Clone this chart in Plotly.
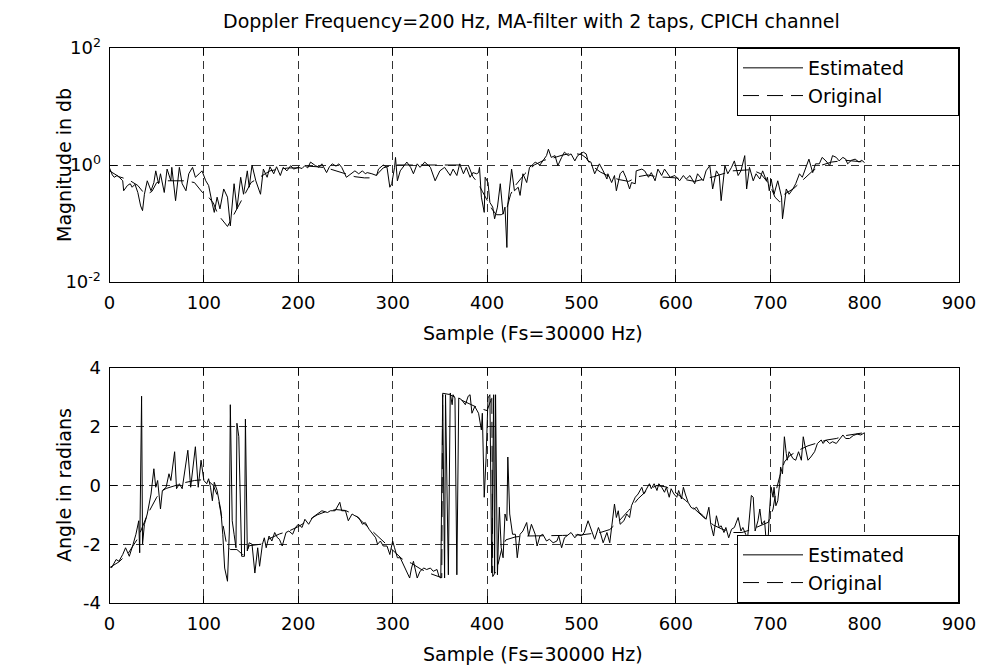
import plotly.graph_objects as go

# ---------------- data ----------------
# Top panel: magnitude, stored as log10 values
mag_est_sample = [0,3,5,8,11,14,15,19,22,24,27,30,33,35,37,40,44,47,49,52,
    54,58,61,65,66,70,74,77,81,84,88,91,95,98,102,105,109,111,114,117,
    121,125,128,132,135,139,142,146,148,151,155,160,163,167,170,174,177,181,184,188,
    192,195,200,204,207,210,213,218,222,225,230,233,236,240,243,246,251,258,260,264,
    268,271,273,278,283,285,290,294,297,299,302,303,305,308,311,315,319,322,326,329,
    334,337,340,345,350,355,361,364,368,371,375,378,382,385,389,391,392,394,397,398,
    401,403,406,408,411,414,417,419,421,422,426,429,433,435,438,442,445,448,451,456,
    459,463,465,468,472,475,479,482,486,489,493,496,502,505,507,510,514,519,523,527,
    528,532,535,537,541,544,547,551,553,557,558,564,567,571,574,578,581,585,588,594,
    599,604,608,611,615,620,623,629,632,636,639,643,646,648,652,655,659,662,666,669,
    673,675,678,682,685,689,692,696,697,699,701,704,708,712,713,717,720,724,727,731,
    734,738,741,745,748,752,755,759,763,766,770,773,777,780,782,786,790,794,797,800]
mag_est_log10 = [-0.05,-0.17,-0.21,-0.18,-0.22,-0.27,-0.44,-0.35,-0.32,-0.38,-0.33,-0.47,-0.70,-0.78,-0.50,-0.27,-0.44,-0.30,-0.10,-0.32,
    -0.15,-0.47,-0.07,-0.27,-0.04,-0.61,-0.04,-0.32,-0.44,-0.15,-0.04,-0.21,-0.15,-0.10,-0.27,-0.35,-0.67,-0.81,-0.55,-0.75,
    -0.41,-0.55,-1.04,-0.32,-0.75,-0.21,-0.50,-0.10,-0.38,0.0,-0.27,-0.50,-0.07,-0.21,-0.03,-0.15,-0.03,-0.18,-0.04,-0.10,
    -0.01,-0.07,-0.04,-0.06,-0.01,-0.05,0.05,-0.01,-0.04,0.02,-0.13,-0.03,0.02,-0.02,0.02,-0.04,-0.21,-0.13,-0.10,-0.15,
    -0.10,-0.15,-0.13,-0.15,-0.18,-0.07,0.0,-0.04,-0.38,-0.32,-0.04,0.13,-0.27,-0.10,-0.04,0.05,-0.04,-0.15,0.02,-0.04,
    0.05,0.0,-0.04,-0.27,-0.10,-0.04,-0.18,-0.07,-0.18,0.02,-0.15,-0.04,-0.21,-0.13,-0.15,-0.13,-0.04,-0.55,-0.81,-0.21,
    -0.30,-0.64,-0.72,-0.92,-0.72,-0.32,-0.84,-0.72,-1.41,-0.67,-0.07,-0.44,-0.38,-0.52,-0.15,-0.30,-0.04,0.0,0.05,0.0,
    0.07,0.16,0.27,0.13,0.16,-0.01,0.13,0.22,0.16,0.19,0.07,0.16,0.22,0.19,0.07,0.05,-0.15,0.02,-0.10,-0.24,
    -0.15,-0.30,-0.18,-0.44,-0.15,-0.10,-0.21,-0.41,-0.30,-0.32,-0.10,-0.07,-0.10,-0.21,-0.13,-0.27,-0.07,-0.18,-0.07,-0.21,
    -0.18,-0.27,-0.18,-0.24,-0.18,-0.32,-0.15,-0.27,-0.10,-0.01,-0.41,-0.10,-0.18,-0.61,-0.01,-0.15,-0.04,0.07,-0.18,-0.10,
    0.16,-0.41,-0.04,-0.27,-0.15,-0.24,-0.10,-0.27,-0.21,-0.44,-0.24,-0.50,-0.27,-0.55,-0.92,-0.41,-0.50,-0.41,-0.32,-0.15,
    -0.21,-0.04,0.10,-0.13,0.02,0.02,0.13,0.07,-0.01,0.16,0.13,0.07,0.13,0.10,0.02,0.08,0.10,0.05,0.08,0.04]

mag_orig_sample = [0,10,20,30,35,40,45,50,60,70,
    80,90,95,100,105,110,115,120,125,130,
    140,150,160,170,180,190,200,210,220,230,
    240,250,260,270,280,290,300,320,340,360,
    380,385,390,395,400,405,410,415,420,425,
    430,440,450,460,470,480,490,500,505,510,
    520,530,540,550,560,570,580,600,620,640,
    660,680,690,700,705,710,715,725,735,745,
    755,765,780,800]
mag_orig_log10 = [-0.10,-0.20,-0.25,-0.35,-0.45,-0.50,-0.45,-0.30,-0.27,-0.27,
    -0.27,-0.30,-0.40,-0.50,-0.55,-0.65,-0.85,-0.95,-1.05,-0.90,
    -0.60,-0.30,-0.20,-0.10,-0.07,-0.05,-0.05,-0.02,-0.03,-0.05,
    -0.10,-0.15,-0.20,-0.22,-0.22,-0.05,0.0,0.0,0.0,0.0,
    0.0,-0.20,-0.30,-0.45,-0.60,-0.75,-0.85,-0.85,-0.80,-0.50,
    -0.35,-0.15,0.0,0.08,0.12,0.17,0.20,0.18,0.12,0.0,
    -0.12,-0.20,-0.25,-0.28,-0.20,-0.17,-0.20,-0.22,-0.28,-0.20,
    -0.10,-0.08,-0.15,-0.35,-0.55,-0.63,-0.50,-0.40,-0.25,-0.10,
    0.0,0.05,0.08,0.05]

# Bottom panel: angle in radians
ang_est_sample = [2,7,10,14,17,21,25,28,31,32,34,35,37,40,44,47,49,51,54,56,
    60,63,65,69,71,74,77,79,83,86,88,91,94,97,100,103,105,107,109,111,
    114,118,120,122,125,127,128,130,132,134,135,137,140,143,144,146,148,151,154,157,
    159,162,164,166,169,172,175,178,180,183,187,190,194,197,200,204,207,211,215,220,
    225,231,234,239,244,246,250,253,257,260,264,268,271,275,278,282,284,287,290,294,
    297,300,302,305,308,312,315,318,320,322,326,329,333,336,340,343,347,349,351,353,
    355,356,359,361,363,364,366,368,370,373,377,380,382,384,387,391,394,395,397,399,
    401,403,405,407,408,409,411,413,415,417,419,421,422,424,427,430,432,435,438,442,
    444,447,451,453,456,459,463,466,470,474,476,479,482,486,489,493,496,500,503,507,
    511,514,518,520,523,527,530,532,535,537,539,541,545,548,551,553,557,560,564,566,
    569,572,574,577,580,582,585,588,590,593,595,598,601,603,606,608,610,613,616,619,
    622,625,629,632,635,637,640,643,646,648,651,653,656,659,662,666,669,671,674,676,
    680,682,684,687,689,691,694,696,697,699,701,703,704,706,708,710,711,713,715,717,
    718,720,724,727,730,733,735,737,740,743,747,750,754,756,759,763,766,770,773,777,
    780,784,788,792,796,800]
ang_est_rad = [-2.81,-2.52,-2.58,-2.35,-2.12,-2.41,-2.00,-1.66,-1.20,-2.29,3.04,-2.00,-1.32,-0.97,-0.29,0.57,-0.06,0.17,-0.80,-0.17,
    -0.06,0.40,0.17,1.15,-0.11,0.06,-0.11,0.29,1.20,-0.06,0.52,1.32,-0.06,0.86,0.17,0.06,0.23,-0.06,-0.52,0.11,
    -0.17,-0.86,-1.66,-2.81,-3.26,-1.55,2.75,-1.20,-1.66,-2.12,2.12,1.66,-2.41,-2.41,2.26,-2.23,-1.95,-2.00,-2.98,-2.12,
    -2.75,-2.00,-1.78,-2.12,-1.72,-1.89,-1.60,-1.78,-1.83,-2.06,-1.60,-1.55,-1.66,-1.43,-1.32,-1.43,-1.15,-1.32,-1.09,-0.97,
    -0.86,-0.92,-0.86,-0.86,-0.57,-0.86,-0.86,-1.20,-0.97,-1.03,-1.09,-1.32,-1.26,-1.49,-1.60,-1.78,-2.00,-1.89,-2.06,-2.06,
    -2.35,-1.89,-2.12,-2.46,-2.46,-2.75,-2.92,-3.15,-2.81,-2.58,-3.15,-2.92,-2.81,-2.86,-2.81,-2.92,-2.86,-3.09,-3.15,3.09,
    -3.15,3.09,-3.04,3.15,2.75,3.09,2.98,-3.04,2.98,2.92,2.75,3.04,3.09,2.46,2.69,2.46,1.89,2.46,-0.40,0.97,
    2.98,3.09,-2.98,3.09,-2.98,3.09,-3.04,-0.74,-2.12,-2.46,-0.97,-1.20,0.97,-0.97,-1.66,-1.66,-2.46,-1.66,-1.55,-1.26,
    -1.72,-1.32,-1.66,-2.06,-1.72,-1.66,-1.89,-1.83,-1.95,-1.89,-1.72,-2.12,-1.78,-1.66,-1.60,-1.78,-1.66,-1.72,-1.60,-1.20,
    -1.55,-1.83,-1.43,-1.60,-1.95,-1.60,-1.95,-1.43,-0.63,-1.09,-0.86,-1.32,-1.20,-0.97,-1.09,-0.69,-0.40,-0.29,-0.06,-0.29,
    -0.11,0.06,-0.11,0.06,-0.17,0.06,-0.06,-0.23,-0.06,-0.40,-0.11,-0.29,-0.40,-0.17,-0.46,-0.06,-0.29,-0.57,-0.74,-0.80,
    -0.74,-0.92,-1.03,-1.15,-0.74,-1.32,-1.72,-1.03,-1.43,-1.37,-1.60,-1.43,-1.78,-1.49,-1.43,-1.09,-1.55,-1.43,-1.66,-1.80,
    -0.34,-0.40,-1.55,-1.20,-0.80,-1.32,-1.20,-2.10,-2.40,-0.97,-0.06,-0.40,-0.06,-0.69,-0.52,0.06,0.63,0.40,1.66,1.09,
    0.86,1.15,0.92,0.86,1.15,0.86,1.66,1.32,0.86,0.97,1.15,1.43,1.55,1.43,1.55,1.43,1.49,1.43,1.55,1.72,
    1.60,1.60,1.70,1.75,1.72,1.80]

ang_orig_sample = [0,10,20,30,35,40,45,50,55,60,
    70,80,90,100,105,110,115,118,121,124,
    128,135,141,144,148,160,170,180,190,200,
    210,220,230,240,250,260,270,280,290,300,
    310,320,330,340,350,352,353,360,370,380,
    390,400,404,405,406,410,413,416,420,430,
    440,460,480,500,520,530,540,550,560,570,
    580,590,600,610,620,630,640,650,660,670,
    680,690,698,703,706,710,715,720,730,740,
    750,760,770,780,790,800]
ang_orig_rad = [-2.80,-2.60,-2.30,-1.80,-1.40,-1.00,-0.70,-0.40,-0.20,-0.10,
    0.0,0.10,0.17,0.20,0.15,0.0,-0.40,-0.90,-1.50,-2.00,
    -2.18,-2.18,-2.35,-2.35,-2.05,-2.00,-1.80,-1.65,-1.55,-1.40,
    -1.20,-1.00,-0.88,-0.82,-0.85,-1.00,-1.30,-1.60,-1.90,-2.20,
    -2.50,-2.65,-2.85,-3.00,-3.10,-3.14,3.14,3.10,2.95,2.80,
    2.65,2.55,2.90,3.10,-3.10,-2.90,-2.50,-2.10,-1.85,-1.75,
    -1.72,-1.72,-1.70,-1.68,-1.60,-1.50,-1.20,-0.85,-0.45,-0.15,
    0.0,-0.05,-0.25,-0.50,-0.80,-1.10,-1.35,-1.50,-1.60,-1.60,
    -1.50,-1.35,-1.25,-0.80,-0.20,0.30,0.80,1.00,1.20,1.35,
    1.45,1.55,1.60,1.70,1.75,1.80]

x_ticks = [0, 100, 200, 300, 400, 500, 600, 700, 800, 900]
mag_ticks = [0.01, 1, 100]
mag_tick_text = ["10<sup>-2</sup>", "10<sup>0</sup>", "10<sup>2</sup>"]
ang_ticks = [-4, -2, 0, 2, 4]
ang_tick_text = ["-4", "-2", "0", "2", "4"]

series_names = ["Estimated", "Original"]
title_text = "Doppler Frequency=200 Hz, MA-filter with 2 taps, CPICH channel"
xlabel_text = "Sample (Fs=30000 Hz)"

def check(a, b, name):
    n = min(len(a), len(b))
    if len(a) != len(b):
        print("length mismatch", name, len(a), len(b))
    return a[:n], b[:n]

mes, mel = check(mag_est_sample, mag_est_log10, "mag_est")
mos, mol = check(mag_orig_sample, mag_orig_log10, "mag_orig")
aes, aer = check(ang_est_sample, ang_est_rad, "ang_est")
aos, aor = check(ang_orig_sample, ang_orig_rad, "ang_orig")

# ---------------- figure ----------------
# The page body has an 8px margin, so the figure is 8px smaller and every
# page position is converted to paper coordinates with that offset.
OFF = 8
PW, PH = 984, 671
W, H = PW - OFF, PH - OFF

def px(xp):
    return (xp - OFF) / W

def py(yp):
    return 1 - (yp - OFF) / H

FONT = "DejaVu Sans, Liberation Sans, Arial, sans-serif"
FS = 18
x0, x1 = px(109.5), px(959)
top_dom = [py(282), py(48)]
bot_dom = [py(603), py(368)]

PAD = "\u00a0" * 8  # visual padding so the legend box is as wide as the reference

fig = go.Figure()
line_est = dict(color="black", width=1)
line_orig = dict(color="black", width=1, dash="16px,8px")

fig.add_trace(go.Scatter(x=mes, y=[10 ** v for v in mel], mode="lines", line=line_est,
                         name=series_names[0] + PAD, xaxis="x", yaxis="y", legend="legend"))
fig.add_trace(go.Scatter(x=mos, y=[10 ** v for v in mol], mode="lines", line=line_orig,
                         name=series_names[1] + PAD, xaxis="x", yaxis="y", legend="legend"))
fig.add_trace(go.Scatter(x=aes, y=aer, mode="lines", line=line_est,
                         name=series_names[0] + PAD, xaxis="x2", yaxis="y2", legend="legend2"))
fig.add_trace(go.Scatter(x=aos, y=aor, mode="lines", line=line_orig,
                         name=series_names[1] + PAD, xaxis="x2", yaxis="y2", legend="legend2"))

axis_common = dict(showline=True, linecolor="black", linewidth=1, mirror="ticks",
                   ticks="inside", ticklen=7, tickcolor="black", showgrid=True,
                   gridcolor="#333333", gridwidth=1, griddash="8px,5px", zeroline=False,
                   automargin=False, ticklabelstandoff=4,
                   tickfont=dict(family=FONT, size=FS, color="black"))

legend_common = dict(x=x1, xanchor="right", bgcolor="white", bordercolor="black", borderwidth=1,
                     font=dict(family=FONT, size=FS + 1, color="black"), itemwidth=60,
                     tracegroupgap=0)

fig.update_layout(
    width=W, height=H,
    margin=dict(l=0, r=0, t=0, b=0, autoexpand=False),
    paper_bgcolor="white", plot_bgcolor="white",
    font=dict(family=FONT, size=FS, color="black"),
    xaxis=dict(domain=[x0, x1], anchor="y", range=[0, 900], tickvals=x_ticks, **axis_common),
    yaxis=dict(domain=top_dom, anchor="x", type="log", range=[-2, 2], tickvals=mag_ticks,
               ticktext=mag_tick_text, **axis_common),
    xaxis2=dict(domain=[x0, x1], anchor="y2", range=[0, 900], tickvals=x_ticks, **axis_common),
    yaxis2=dict(domain=bot_dom, anchor="x2", range=[-4, 4], tickvals=ang_ticks,
                ticktext=ang_tick_text, **axis_common),
    legend=dict(y=top_dom[1], yanchor="top", **legend_common),
    legend2=dict(y=bot_dom[0], yanchor="bottom", **legend_common),
    showlegend=True,
)

ann_font = dict(family=FONT, size=FS + 1, color="black")
xc = (x0 + x1) / 2 - 0.01
fig.add_annotation(text=title_text, x=px(531), y=py(21), xref="paper", yref="paper",
                   showarrow=False, font=ann_font, xanchor="center", yanchor="middle")
fig.add_annotation(text=xlabel_text, x=px(533), y=py(333), xref="paper", yref="paper",
                   showarrow=False, font=ann_font, xanchor="center", yanchor="middle")
fig.add_annotation(text=xlabel_text, x=px(533), y=py(654), xref="paper", yref="paper",
                   showarrow=False, font=ann_font, xanchor="center", yanchor="middle")
fig.add_annotation(text="Magnitude in db", x=px(64), y=py(165), xref="paper", yref="paper",
                   showarrow=False, font=ann_font, textangle=-90, xanchor="center", yanchor="middle")
fig.add_annotation(text="Angle in radians", x=px(64), y=py(485), xref="paper", yref="paper",
                   showarrow=False, font=ann_font, textangle=-90, xanchor="center", yanchor="middle")

fig.write_html("out.html")
